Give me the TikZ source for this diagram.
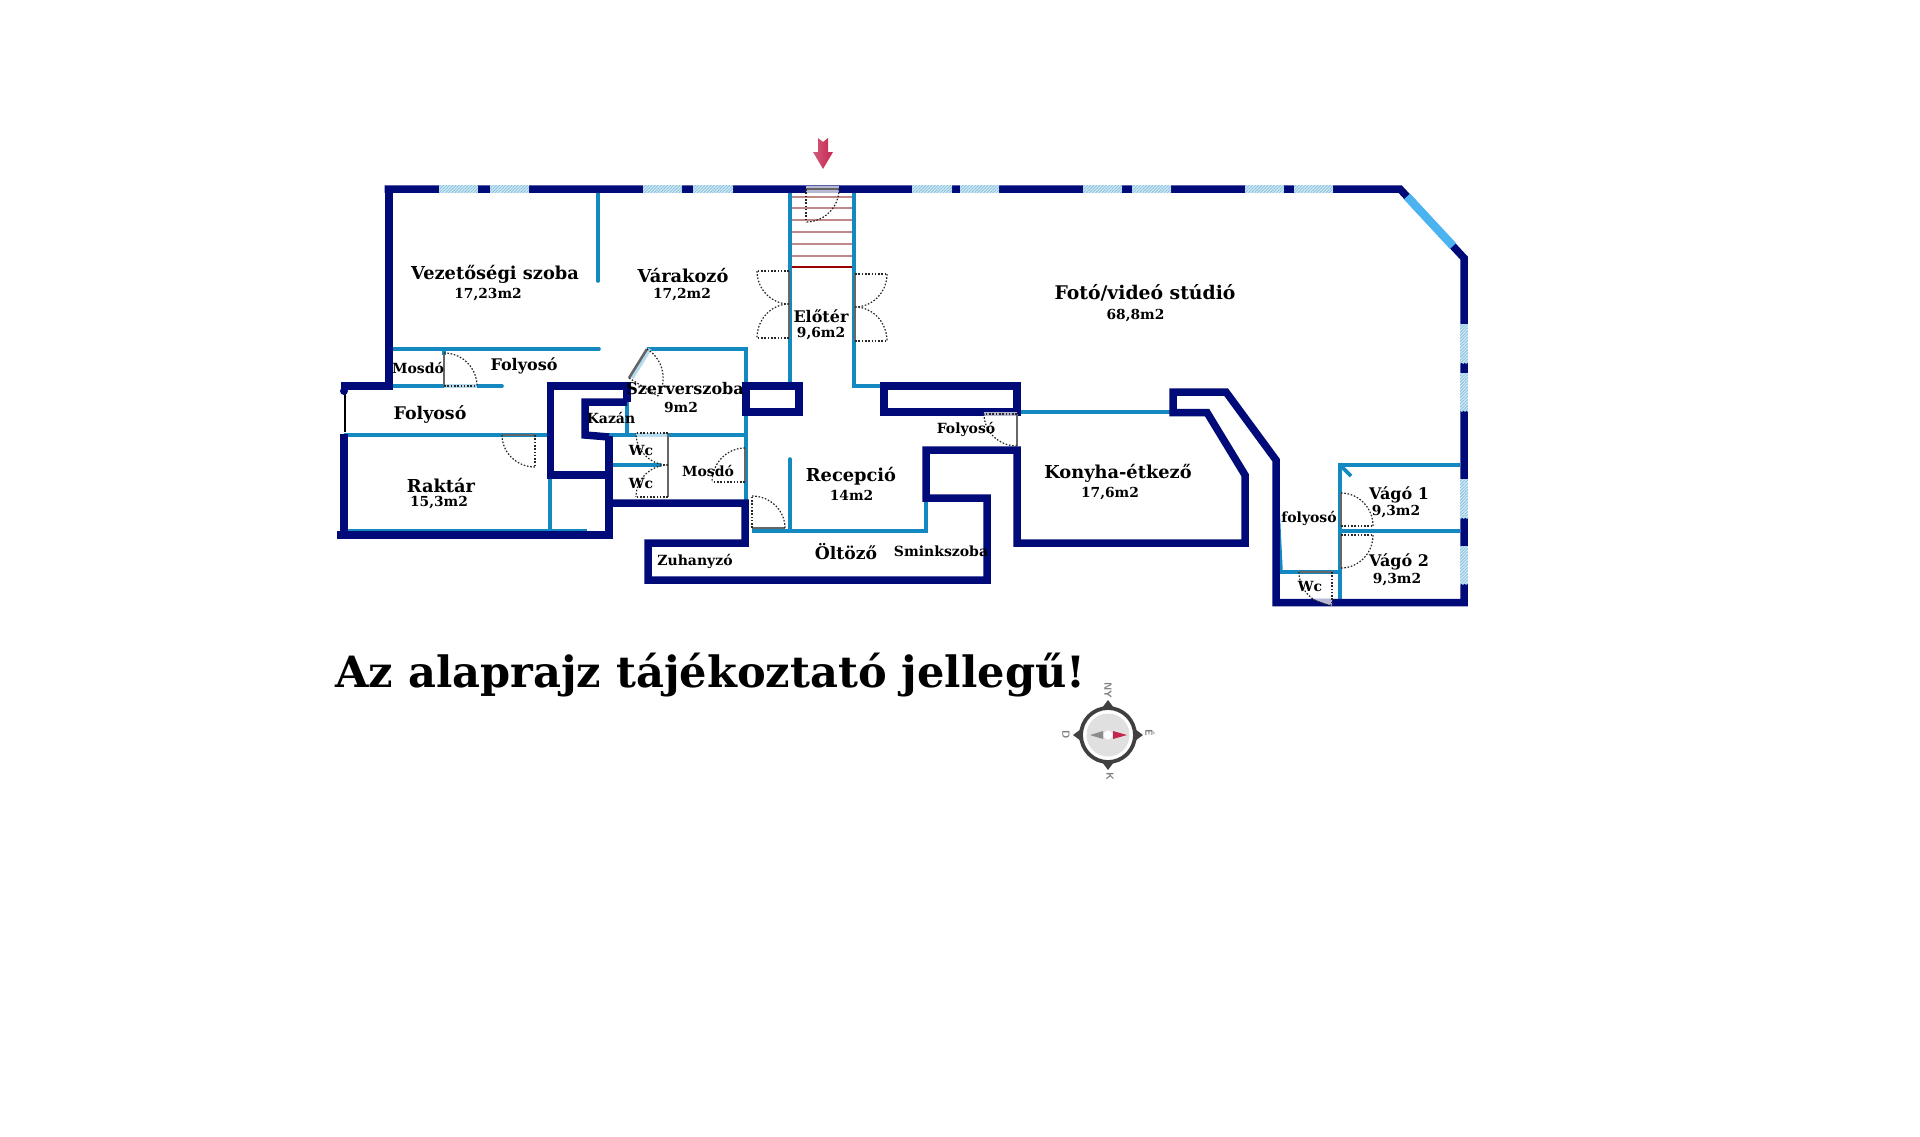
\documentclass[tikz,border=0pt]{standalone}
\usepackage{fontspec}
\usepackage{tikz}
\usetikzlibrary{calc,patterns.meta}
\setmainfont{DejaVu Serif}
\definecolor{wallnavy}{HTML}{000A78}
\definecolor{wallblue}{HTML}{1488C0}
\definecolor{gapblue}{HTML}{B4DCEE}
\definecolor{glassblue}{HTML}{4BB4F0}
\definecolor{leafgrey}{HTML}{666666}
\definecolor{lavender}{HTML}{B8B8D4}
\definecolor{stairred}{HTML}{C08888}
\definecolor{arrowred}{HTML}{C4264F}

\begin{document}
\begin{tikzpicture}[
        x=0.5pt, y=-0.5pt,
        wall/.style={draw=wallnavy, line width=3.75pt, line join=miter},
        thinwall/.style={draw=wallblue, line width=1.8pt},
        gapwall/.style={draw=gapblue, line width=1.8pt},
        leaf/.style={draw=leafgrey, line width=1.3pt},
        swing/.style={draw=black!85, line width=0.6pt, dash pattern=on 0.8pt off 0.85pt},
        window/.style={fill=gapblue!55!white, postaction={pattern={Lines[angle=45,distance=1.1pt,line width=.45pt]}, pattern color=wallblue!50}},
        stairline/.style={draw=stairred, line width=0.6pt},
        room/.style={font=\bfseries\fontsize{8.9}{10}\selectfont, inner sep=0pt},
        midroom/.style={font=\bfseries\fontsize{8}{10}\selectfont, inner sep=0pt},
        area/.style={font=\bfseries\fontsize{6.9}{8}\selectfont, inner sep=0pt},
        small/.style={font=\bfseries\fontsize{7}{8}\selectfont, inner sep=0pt},
        compassmark/.style={font=\bfseries\sffamily\fontsize{5.2}{5}\selectfont, text=black!50, inner sep=0pt, rotate=-90}
    ]
    \useasboundingbox (0,0) rectangle (1920,1136);
    % Stairs
    \foreach \sy in {197,208,220,232,244,256}
        \draw[stairline] (792,\sy) -- (852,\sy);
    \draw[draw=red!60!black, line width=0.8pt] (792,267) -- (852,267);
    % Thin walls
    \draw[thinwall, line cap=round] (598,193) -- (598,281);
    \draw[thinwall, line cap=round] (393,349) -- (599,349);
    \draw[thinwall] (444,349) -- (444,355);
    \draw[thinwall, line cap=round] (393,386) -- (502,386);
    \draw[thinwall] (647,349) -- (746,349) -- (746,503);
    \draw[thinwall] (344,435) -- (550,435);
    \draw[thinwall] (550,475) -- (550,531);
    \draw[thinwall] (348,531) -- (587,531);
    \draw[thinwall] (627,402) -- (627,435);
    \draw[thinwall] (609,435) -- (746,435);
    \draw[thinwall, line cap=round] (613,465) -- (660,465);
    \draw[thinwall] (752,531) -- (926,531) -- (926,498);
    \draw[thinwall, line cap=round] (790,459) -- (790,531);
    \draw[thinwall] (790,193) -- (790,386);
    \draw[thinwall] (854,193) -- (854,386) -- (884,386);
    \draw[thinwall] (1017,412) -- (1173,412);
    \draw[thinwall] (1340,600) -- (1340,465) -- (1460,465);
    \draw[thinwall] (1340,465) -- (1351,476);
    \draw[thinwall] (1340,531) -- (1460,531);
    \draw[thinwall] (1278,510) -- (1281,572) -- (1340,572);
    % Openings under the door leaves
    \draw[gapwall] (444,386) -- (477,386);
    \draw[gapwall] (636,435) -- (668,435);
    \draw[gapwall] (632,378) -- (650,349);
    % Outer walls
    \draw[wall] (384.5,189) -- (1400,189) -- (1464,258) -- (1464,602.5) -- (1276,602.5) -- (1276,460) -- (1226,392) -- (1173,392) -- (1173,412.5) -- (1207,412.5) -- (1245,475) -- (1245,543) -- (1017,543) -- (1017,450) -- (926,450) -- (926,498) -- (987,498) -- (987,580) -- (648,580) -- (648,543) -- (745,543) -- (745,503) -- (609,503);
    \draw[wall] (389,189) -- (389,386) -- (341,386);
    \draw[wall] (609,436) -- (609,535) -- (337,535);
    \draw[wall] (344,434) -- (344,535);
    \draw[wall] (627,402) -- (627,386) -- (550.5,386) -- (550.5,475) -- (609,475);
    \draw[wall] (627,402) -- (585,402) -- (585,435) -- (609,437);
    \draw[wall] (746,386) rectangle (799,412);
    \draw[wall] (884,386) rectangle (1017,412);
    % Glass in the walls
    \draw[draw=glassblue, line width=4.2pt] (1407,196.5) -- (1453,246);
    \foreach \wa/\wb in {439/478,490/529,643/682,693/733,912/952,960/999,1083/1122,1132/1171,1245/1284,1294/1333}
        \path[window] (\wa,185.3) rectangle (\wb,192.8);
    \foreach \wa/\wb in {324/363,373/411,479/518,546/584}
        \path[window] (1460.2,\wa) rectangle (1467.8,\wb);
    % Light parts of the walls
    \fill[lavender] (806,186) rectangle (839,193);
    \fill[lavender] (984,412) rectangle (1017,416);
    \fill[lavender] (1332,606) -- (1313,599) -- (1332,599) -- cycle;
    % Entry thin line
    \draw[draw=black, line width=0.7pt] (345,390) -- (345,432);
    \fill[wallnavy] (344,391) circle (4);
    % Doors: hinge / leaf end / open end
    \foreach \hx/\hy/\lx/\ly/\dx/\dy in {444/386/444/353/477/386, 535/435/502/435/535/467, 629/378/647/349/658/396, 668/433/668/465/636/433, 668/497/668/465/636/497, 745/482/745/448/712/482, 752/528/785/528/752/496, 806/189/839/189/806/222, 789/271/789/304/757/271, 789/338/789/304/757/338, 855/274/855/307/887/274, 855/341/855/307/887/341, 1017/414/1017/446/984/414, 1341/526/1341/493/1373/526, 1341/535/1341/568/1373/535, 1332/572/1299/572/1332/605}
    {
        \draw[leaf] (\hx,\hy) -- (\lx,\ly);
        \draw[swing] (\hx,\hy) -- (\dx,\dy);
        \draw[swing] (\lx,\ly) .. controls ($(\lx,\ly)+0.552*(\dx,\dy)-0.552*(\hx,\hy)$) and ($(\dx,\dy)+0.552*(\lx,\ly)-0.552*(\hx,\hy)$) .. (\dx,\dy);
    }
    % Entrance arrow
    \shade[left color=arrowred!75!white, right color=arrowred] (818,138) -- (823,142) -- (828,138) -- (828,152) -- (833,152) -- (823,169) -- (813,152) -- (818,152) -- cycle;
    % Room labels
    \node[room] (vezetoi) at (495,274) {Vezetőségi szoba};
    \node[area] (vezetoiarea) at (488,295) {17,23m2};
    \node[room] (varakozo) at (683,275) {Várakozó};
    \node[area] (varakozoarea) at (682,295) {17,2m2};
    \node[midroom] (eloter) at (821,316) {Előtér};
    \node[area] (eloterarea) at (821,334) {9,6m2};
    \node[room, font=\bfseries\fontsize{9.4}{10}\selectfont] (studio) at (1145,293) {Fotó/videó stúdió};
    \node[area] (studioarea) at (1135.5,316) {68,8m2};
    \node[small] (mosdoa) at (418,368) {Mosdó};
    \node[midroom] (folyosoa) at (524,366) {Folyosó};
    \node[room, font=\bfseries\fontsize{8.7}{10}\selectfont] (folyosob) at (430,414) {Folyosó};
    \node[room] (raktar) at (441,485) {Raktár};
    \node[area] (raktararea) at (439,503) {15,3m2};
    \node[midroom] (szerver) at (685,389) {Szerverszoba};
    \node[area] (szerverarea) at (681,407) {9m2};
    \node[small] (kazan) at (611,418) {Kazán};
    \node[small] (wca) at (641,450) {Wc};
    \node[small] (wcb) at (641,483) {Wc};
    \node[small] (mosdob) at (708,471) {Mosdó};
    \node[room] (recepcio) at (851,476) {Recepció};
    \node[area] (recepcioarea) at (851.5,495) {14m2};
    \node[small] (zuhanyzo) at (695,561) {Zuhanyzó};
    \node[room, font=\bfseries\fontsize{8.6}{10}\selectfont] (oltozo) at (846,552) {Öltöző};
    \node[small] (sminkszoba) at (941,551) {Sminkszoba};
    \node[small] (folyosoc) at (966,429) {Folyosó};
    \node[room] (konyha) at (1118,473) {Konyha-étkező};
    \node[area] (konyhaarea) at (1110,494) {17,6m2};
    \node[small] (folyosod) at (1309,518) {folyosó};
    \node[midroom] (vagoa) at (1399,495) {Vágó 1};
    \node[area] (vagoaarea) at (1396,512) {9,3m2};
    \node[midroom] (vagob) at (1399,562) {Vágó 2};
    \node[area] (vagobarea) at (1397,580) {9,3m2};
    \node[small] (wcc) at (1310,586) {Wc};
    % Notice
    \node[font=\bfseries\fontsize{21.55}{24}\selectfont, inner sep=0pt, anchor=base west] (notice) at (335,687) {Az alaprajz tájékoztató jellegű!};
    % Compass
    \foreach \ca in {0,90,180,270}
        \fill[black!75, rotate around={\ca:(1108,735)}] (1102,708) -- (1108,700) -- (1114,708) -- cycle;
    \draw[draw=black!75, line width=1.9pt, fill=white] (1108,735) circle (27);
    \fill[black!12] (1108,735) circle (21.5);
    \fill[black!45] (1090,735) -- (1103,731) -- (1103,739) -- cycle;
    \fill[arrowred] (1127,735) -- (1113,731) -- (1113,739) -- cycle;
    \fill[white] (1108,735) circle (4.5);
    \node[compassmark] (north) at (1108,690) {NY};
    \node[compassmark] (south) at (1110,776) {K};
    \node[compassmark] (west) at (1066,735) {D};
    \node[compassmark] (east) at (1150,733) {É};
\end{tikzpicture}
\end{document}
